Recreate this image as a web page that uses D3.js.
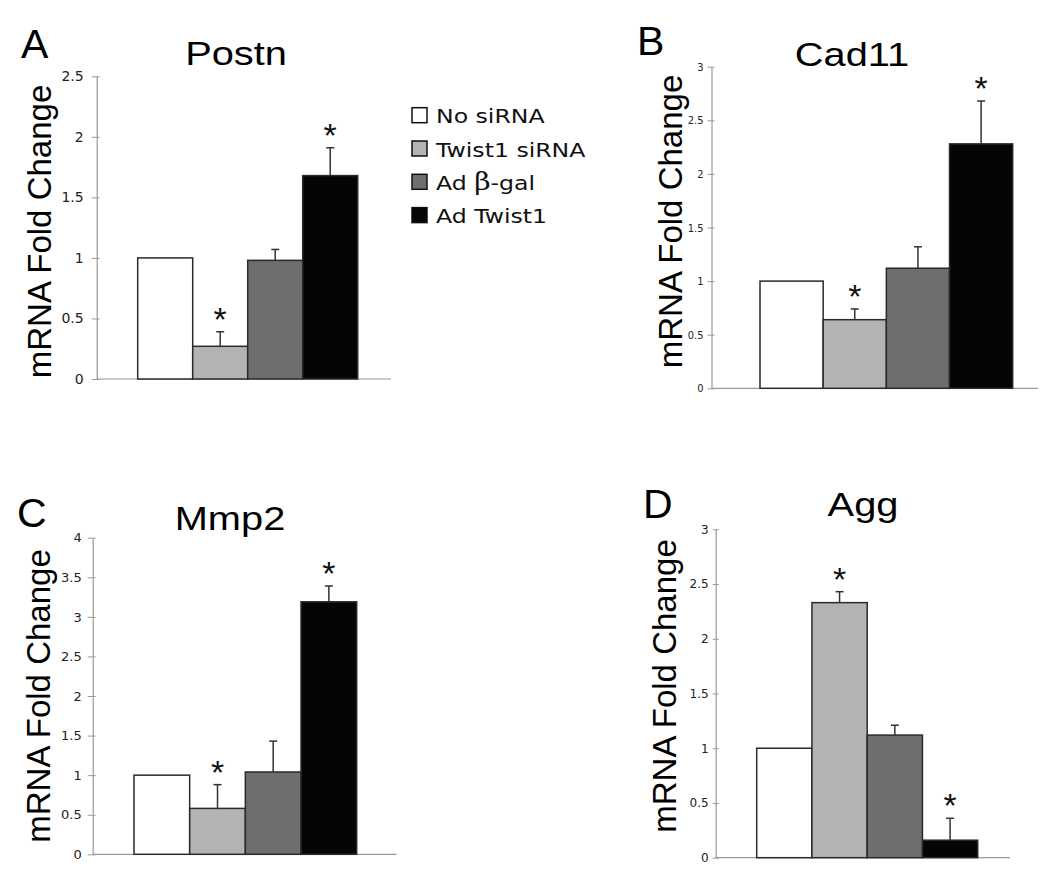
<script src="https://d3js.org/d3.v7.js"></script>
<style>
  body { margin: 0; background: #fff; }
  svg { display: block; }
</style>
<svg id="fig" width="1050" height="878"></svg>
<script>
    // groups shown in every panel
    const categories = ["No siRNA", "Twist1 siRNA", "Ad \u03b2-gal", "Ad Twist1"];
    const genes = ["Postn", "Cad11", "Mmp2", "Agg"];
    const panelLetters = ["A", "B", "C", "D"];

    // mean fold change and upper error (SD) per gene
    const postnMean = [1.00, 0.27, 0.98, 1.68];
    const postnErr  = [0.00, 0.12, 0.09, 0.23];
    const cad11Mean = [1.00, 0.64, 1.12, 2.28];
    const cad11Err  = [0.00, 0.10, 0.20, 0.40];
    const mmp2Mean  = [1.00, 0.58, 1.04, 3.19];
    const mmp2Err   = [0.00, 0.30, 0.39, 0.20];
    const aggMean   = [1.00, 2.33, 1.12, 0.16];
    const aggErr    = [0.00, 0.10, 0.09, 0.20];

    // asterisk = significant vs control
    const postnSig = [false, true, false, true];
    const cad11Sig = [false, true, false, true];
    const mmp2Sig  = [false, true, false, true];
    const aggSig   = [false, true, false, true];

    const yMax = [2.5, 3, 4, 3];
    const tickStep = 0.5;

    const fills = ["#ffffff", "#b3b3b3", "#6e6e6e", "#050505"];

    const means = [postnMean, cad11Mean, mmp2Mean, aggMean];
    const errs = [postnErr, cad11Err, mmp2Err, aggErr];
    const sigs = [postnSig, cad11Sig, mmp2Sig, aggSig];

    // where each panel sits on the page
    const layout = [
        {axisX: 96.7, yTop: 76.3, y0: 379, xEnd: 391, bx0: 137.7, bx1: 357.7,
         title: [236, 65], letter: [21, 58], ytitle: [51, 231.5],
         tickFont: "14px 'DejaVu Sans'", tickSize: 5, tickPad: 8},
        {axisX: 711.5, yTop: 66.7, y0: 388.3, xEnd: 1038, bx0: 760, bx1: 1012.7,
         title: [852, 66], letter: [637, 55], ytitle: [682, 221.5],
         tickFont: "11px 'DejaVu Sans Condensed', 'DejaVu Sans'", tickSize: 4, tickPad: 4},
        {axisX: 92.7, yTop: 537.7, y0: 854.3, xEnd: 396.7, bx0: 134, bx1: 356.7,
         title: [230, 530], letter: [17, 527], ytitle: [50, 696],
         tickFont: "13px 'DejaVu Sans'", tickSize: 5, tickPad: 6},
        {axisX: 715.7, yTop: 529.3, y0: 857.7, xEnd: 1010, bx0: 756.7, bx1: 977.7,
         title: [863, 516], letter: [643, 518], ytitle: [676, 686],
         tickFont: "12px 'DejaVu Sans'", tickSize: 3, tickPad: 4}
    ];

    const svg = d3.select("#fig");
    const sansFont = "'Liberation Sans', Arial, Helvetica, sans-serif";
    const stretch = 1.17;

    genes.forEach((gene, i) => {
        const L = layout[i];
        const g = svg.append("g");

        const x = d3.scaleBand().domain(categories).range([L.bx0, L.bx1]).padding(0);
        const y = d3.scaleLinear().domain([0, yMax[i]]).range([L.y0, L.yTop]);

        const rows = categories.map((c, j) => ({
            cat: c, mean: means[i][j], err: errs[i][j], sig: sigs[i][j], fill: fills[j]
        }));

        // y axis
        const yAxis = d3.axisLeft(y)
            .tickValues(d3.range(0, yMax[i] + 1e-9, tickStep))
            .tickFormat(d => String(+d.toFixed(1)))
            .tickSizeInner(L.tickSize)
            .tickSizeOuter(0)
            .tickPadding(L.tickPad);

        const ax = g.append("g")
            .attr("transform", `translate(${L.axisX},0)`)
            .call(yAxis);
        ax.select(".domain").attr("stroke", "#9a9a9a").attr("stroke-width", 1.2);
        ax.selectAll(".tick line").attr("stroke", "#9a9a9a").attr("x2", 3).attr("x1", -L.tickSize);
        ax.selectAll(".tick text")
            .style("font", L.tickFont)
            .attr("fill", "#222");

        // baseline
        g.append("line")
            .attr("x1", L.axisX).attr("x2", L.xEnd)
            .attr("y1", y(0)).attr("y2", y(0))
            .attr("stroke", "#9a9a9a").attr("stroke-width", 1.2);

        // bars
        g.selectAll("rect.bar")
            .data(rows)
            .join("rect")
            .attr("class", "bar")
            .attr("x", d => x(d.cat))
            .attr("y", d => y(d.mean))
            .attr("width", x.bandwidth())
            .attr("height", d => y(0) - y(d.mean))
            .attr("fill", d => d.fill)
            .attr("stroke", "#2a2a2a")
            .attr("stroke-width", 1.5);

        // error bars (upper only)
        const eb = rows.filter(d => d.err > 0);
        g.selectAll("line.err")
            .data(eb)
            .join("line")
            .attr("class", "err")
            .attr("x1", d => x(d.cat) + x.bandwidth() / 2)
            .attr("x2", d => x(d.cat) + x.bandwidth() / 2)
            .attr("y1", d => y(d.mean))
            .attr("y2", d => y(d.mean + d.err))
            .attr("stroke", "#333").attr("stroke-width", 1.5);
        g.selectAll("line.cap")
            .data(eb)
            .join("line")
            .attr("class", "cap")
            .attr("x1", d => x(d.cat) + x.bandwidth() / 2 - 4)
            .attr("x2", d => x(d.cat) + x.bandwidth() / 2 + 4)
            .attr("y1", d => y(d.mean + d.err))
            .attr("y2", d => y(d.mean + d.err))
            .attr("stroke", "#333").attr("stroke-width", 1.5);

        // significance stars
        g.selectAll("text.star")
            .data(rows.filter(d => d.sig))
            .join("text")
            .attr("class", "star")
            .attr("x", d => x(d.cat) + x.bandwidth() / 2)
            .attr("y", d => y(d.mean + d.err) - 20 + 19)
            .attr("text-anchor", "middle")
            .style("font", `34px ${sansFont}`)
            .attr("fill", "#111")
            .text("*");

        // gene title
        g.append("text")
            .attr("transform", `translate(${L.title[0]},${L.title[1]}) scale(${stretch},1)`)
            .attr("text-anchor", "middle")
            .style("font", `34px ${sansFont}`)
            .attr("fill", "#000")
            .text(gene);

        // panel letter
        g.append("text")
            .attr("x", L.letter[0]).attr("y", L.letter[1])
            .style("font", `41px ${sansFont}`)
            .attr("fill", "#000")
            .text(panelLetters[i]);

        // y title
        g.append("text")
            .attr("transform", `translate(${L.ytitle[0]},${L.ytitle[1]}) rotate(-90)`)
            .attr("text-anchor", "middle")
            .style("font", `33px ${sansFont}`)
            .attr("fill", "#000")
            .text("mRNA Fold Change");
    });

    // legend (sits in panel A)
    const legend = svg.append("g").attr("transform", "translate(412,107.7)");
    const rowStep = 33.3;
    const items = legend.selectAll("g.item")
        .data(categories)
        .join("g")
        .attr("class", "item")
        .attr("transform", (d, j) => `translate(0,${j * rowStep})`);
    items.append("rect")
        .attr("width", 15).attr("height", 15)
        .attr("fill", (d, j) => fills[j])
        .attr("stroke", "#111").attr("stroke-width", 1.5);
    items.append("text")
        .attr("transform", "translate(24,15.5) scale(1.18,1)")
        .style("font", "20px 'DejaVu Sans', Verdana, sans-serif")
        .attr("fill", "#111")
        .each(function(d) {
            const t = d3.select(this);
            if (d.includes("\u03b2")) {
                const parts = d.split("\u03b2");
                t.append("tspan").text(parts[0]);
                t.append("tspan").style("font", "24px 'DejaVu Serif', serif").text("\u03b2");
                t.append("tspan").text(parts[1]);
            } else {
                t.text(d);
            }
        });
</script>
